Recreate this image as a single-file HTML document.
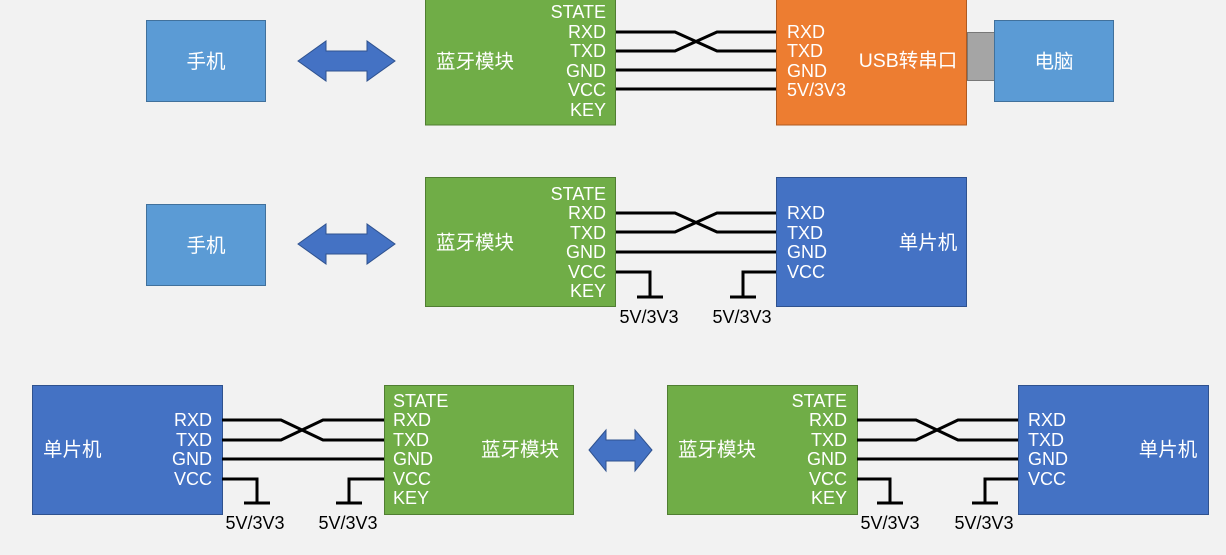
<!DOCTYPE html>
<html><head><meta charset="utf-8"><style>
html,body{margin:0;padding:0;background:#f2f2f2}
svg{display:block}
text{font-family:"Liberation Sans","Noto Sans CJK SC",sans-serif;font-size:18px;fill:#fff}
text.c{font-size:19.5px}
.k{fill:#000}
.w{stroke:#000;stroke-width:3;fill:none}
</style></head><body>
<svg width="1226" height="555" viewBox="0 0 1226 555">
<defs>
<path id="arr" d="M0,20 L28,0 L28,10 L69,10 L69,0 L97,20 L69,40 L69,30 L28,30 L28,40 Z"/>
</defs>
<!-- Row 1 -->
<rect x="146.5" y="20.5" width="119" height="81" fill="#5b9bd5" stroke="#41719c"/>
<text class="c" x="206" y="68" text-anchor="middle">手机</text>
<use href="#arr" x="298" y="41" fill="#4472c4" stroke="#2f528f"/>
<rect x="425.5" y="-2" width="190" height="127" fill="#70ad47" stroke="#507e32"/>
<text class="c" x="436" y="68">蓝牙模块</text>
<g text-anchor="end">
<text x="606" y="18">STATE</text><text x="606" y="38">RXD</text><text x="606" y="57">TXD</text>
<text x="606" y="77">GND</text><text x="606" y="96">VCC</text><text x="606" y="116">KEY</text></g>
<rect x="776.5" y="-2" width="190" height="127" fill="#ed7d31" stroke="#ae5a21"/>
<g><text x="787" y="38">RXD</text><text x="787" y="57">TXD</text><text x="787" y="77">GND</text><text x="787" y="96">5V/3V3</text></g>
<text class="c" x="908" y="67" text-anchor="middle">USB转串口</text>
<rect x="967.5" y="32.5" width="27" height="48" fill="#a5a5a5" stroke="#787878"/>
<rect x="994.5" y="20.5" width="119" height="81" fill="#5b9bd5" stroke="#41719c"/>
<text class="c" x="1054" y="68" text-anchor="middle">电脑</text>
<path class="w" d="M616,32 H675 L717,51 H776 M616,51 H675 L717,32 H776 M616,70 H776 M616,89 H776"/>
<!-- Row 2 -->
<rect x="146.5" y="204.5" width="119" height="81" fill="#5b9bd5" stroke="#41719c"/>
<text class="c" x="206" y="252" text-anchor="middle">手机</text>
<use href="#arr" x="298" y="224" fill="#4472c4" stroke="#2f528f"/>
<rect x="425.5" y="177.5" width="190" height="129" fill="#70ad47" stroke="#507e32"/>
<text class="c" x="436" y="249">蓝牙模块</text>
<g text-anchor="end">
<text x="606" y="200">STATE</text><text x="606" y="219">RXD</text><text x="606" y="239">TXD</text>
<text x="606" y="258">GND</text><text x="606" y="278">VCC</text><text x="606" y="297">KEY</text></g>
<rect x="776.5" y="177.5" width="190" height="129" fill="#4472c4" stroke="#2f528f"/>
<text x="787" y="219">RXD</text><text x="787" y="239">TXD</text><text x="787" y="258">GND</text><text x="787" y="278">VCC</text>
<text class="c" x="928" y="249" text-anchor="middle">单片机</text>
<path class="w" d="M616,213 H675 L717,232 H776 M616,232 H675 L717,213 H776 M616,252 H776 M616,272 H650 V297 M637,297 H663 M776,272 H743 V297 M730,297 H756"/>
<text class="k" x="649" y="323" text-anchor="middle">5V/3V3</text>
<text class="k" x="742" y="323" text-anchor="middle">5V/3V3</text>
<!-- Row 3 left -->
<rect x="32.5" y="385.5" width="190" height="129" fill="#4472c4" stroke="#2f528f"/>
<text class="c" x="43" y="456">单片机</text>
<g text-anchor="end"><text x="212" y="426">RXD</text><text x="212" y="446">TXD</text><text x="212" y="465">GND</text><text x="212" y="485">VCC</text></g>
<rect x="384.5" y="385.5" width="189" height="129" fill="#70ad47" stroke="#507e32"/>
<text x="393" y="407">STATE</text><text x="393" y="426">RXD</text><text x="393" y="446">TXD</text><text x="393" y="465">GND</text><text x="393" y="485">VCC</text><text x="393" y="504">KEY</text>
<text class="c" x="520" y="456" text-anchor="middle">蓝牙模块</text>
<path class="w" d="M222,420 H281 L323,440 H384 M222,440 H281 L323,420 H384 M222,459 H384 M222,479 H257 V503 M244,503 H270 M384,479 H349 V503 M336,503 H362"/>
<text class="k" x="255" y="529" text-anchor="middle">5V/3V3</text>
<text class="k" x="348" y="529" text-anchor="middle">5V/3V3</text>
<!-- arrow -->
<path d="M589,450 L606,430 L606,440 L635,440 L635,430 L652,450 L635,471 L635,461 L606,461 L606,471 Z" fill="#4472c4" stroke="#2f528f"/>
<!-- Row 3 right -->
<rect x="667.5" y="385.5" width="190" height="129" fill="#70ad47" stroke="#507e32"/>
<text class="c" x="678" y="456">蓝牙模块</text>
<g text-anchor="end">
<text x="847" y="407">STATE</text><text x="847" y="426">RXD</text><text x="847" y="446">TXD</text>
<text x="847" y="465">GND</text><text x="847" y="485">VCC</text><text x="847" y="504">KEY</text></g>
<rect x="1018.5" y="385.5" width="190" height="129" fill="#4472c4" stroke="#2f528f"/>
<text x="1028" y="426">RXD</text><text x="1028" y="446">TXD</text><text x="1028" y="465">GND</text><text x="1028" y="485">VCC</text>
<text class="c" x="1168" y="456" text-anchor="middle">单片机</text>
<path class="w" d="M857,420 H916 L958,440 H1018 M857,440 H916 L958,420 H1018 M857,459 H1018 M857,479 H890 V503 M877,503 H903 M1018,479 H985 V503 M972,503 H998"/>
<text class="k" x="890" y="529" text-anchor="middle">5V/3V3</text>
<text class="k" x="984" y="529" text-anchor="middle">5V/3V3</text>
</svg>
</body></html>
